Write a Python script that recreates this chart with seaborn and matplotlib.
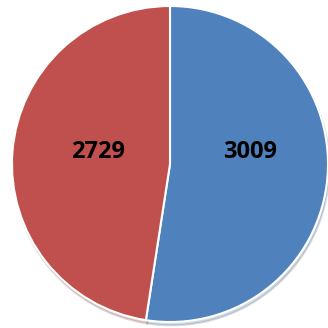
import matplotlib
matplotlib.use("Agg")
import matplotlib.pyplot as plt
import seaborn as sns

categories = ["A", "B"]
values = [3009, 2729]
labels = ["3009", "2729"]
colors = ["#4F81BD", "#C0504D"]

sns.set_theme(style="white")
plt.rcParams['font.family'] = ['Open Sans', 'DejaVu Sans']

fig = plt.figure(figsize=(3.28, 3.28), dpi=100)
ax = fig.add_axes([12/328, 6/328, 316/328, 316/328])
wedges, _ = ax.pie(values, colors=colors, startangle=90, counterclock=False,
                   radius=1.0,
                   wedgeprops=dict(edgecolor="white", linewidth=1.5),
                   shadow=dict(ox=0.006, oy=-0.015, shade=0.4, alpha=0.2))
ax.set_xlim(-1, 1)
ax.set_ylim(-1, 1)
ax.set_aspect("equal")
ax.axis("off")

label_pos = [(0.505, 0.075), (-0.455, 0.075)]
for (x, y), t in zip(label_pos, labels):
    ax.text(x, y, t, ha="center", va="center", fontsize=17, fontweight="bold", color="black")

fig.savefig("out.png", dpi=100, facecolor="white")
